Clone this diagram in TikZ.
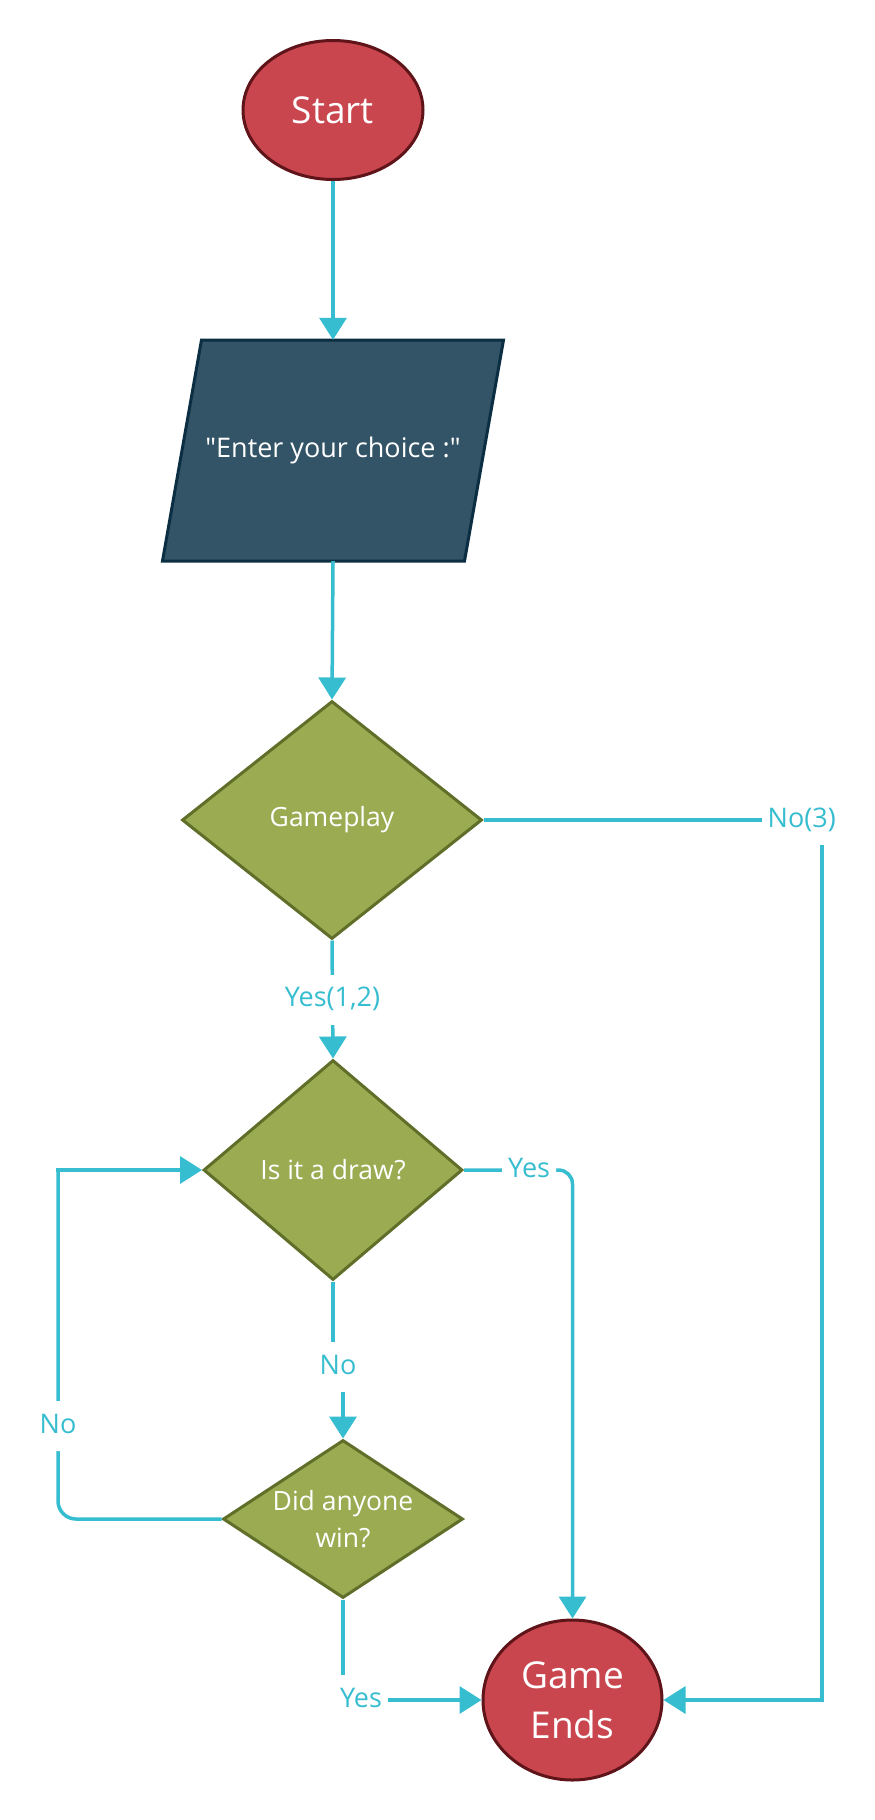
\documentclass[tikz,border=0pt]{standalone}
\usepackage{amsmath, amssymb}
\usepackage{xcolor}
\usepackage{fontspec}
\setmainfont{Open Sans}[Ligatures=TeXOff]
\usepackage{tikz}
\usetikzlibrary{arrows.meta, positioning, shapes.geometric}

\definecolor{termfill}{HTML}{C9464F}
\definecolor{termline}{HTML}{5E1418}
\definecolor{decfill}{HTML}{9AAB52}
\definecolor{decline}{HTML}{5F6E28}
\definecolor{iofill}{HTML}{325466}
\definecolor{ioline}{HTML}{0B2E42}
\definecolor{flowcol}{HTML}{36BDCF}

\begin{document}
\begin{tikzpicture}[x=1pt, y=-1pt,
			terminal/.style={ellipse, draw=termline, fill=termfill, line width=3pt,
				text=white, align=center, inner sep=0pt, font=\fontsize{37}{50}\selectfont},
			decision/.style={diamond, draw=decline, fill=decfill, line width=3pt,
				text=white, align=center, inner sep=0pt, font=\fontsize{26.5}{37}\selectfont},
			inout/.style={text=white, inner sep=0pt, font=\fontsize{27}{37}\selectfont},
			flowline/.style={draw=flowcol, line width=3.5pt},
			flow/.style={flowline, -{Triangle[length=22pt, width=27pt]}},
			lbl/.style={fill=white, text=flowcol, inner xsep=6pt, inner ysep=12pt,
				text height=20pt, text depth=6pt, font=\fontsize{27}{30}\selectfont}]

			\useasboundingbox (0,0) rectangle (875,1820);

%			start and input
			\node[terminal, minimum width=180pt, minimum height=139pt] (Start) at (333,110) {Start};

			\coordinate (IO) at (333,450.5);
			\draw[draw=ioline, fill=iofill, line width=3pt]
				([shift={(-131.5,-110.5)}]IO) -- ([shift={(170.5,-110.5)}]IO)
				-- ([shift={(131.5,110.5)}]IO) -- ([shift={(-170.5,110.5)}]IO) -- cycle;
			\node[inout, minimum height=221pt] (Choice) at (IO) {"Enter your choice :"};

%			decisions
			\node[decision, minimum width=300pt, minimum height=238pt] (Gameplay) at (332,820) {Gameplay};
			\node[decision, minimum width=259pt, minimum height=220pt] (Draw) at (333,1170) {Is it a draw?};
			\node[decision, aspect=1.5, minimum width=240pt, minimum height=158pt] (Win) at (343,1519) {Did anyone\\win?};

%			end
			\node[terminal, minimum width=179pt, minimum height=160pt] (Ends) at (572.5,1700) {Game\\Ends};

			\coordinate (NoTurn) at (822,820);
			\coordinate (NoJog) at (338,1367);
			\coordinate (LoopTop) at (58,1170);

%			connectors
			\draw[flow] (Start.south) -- (Choice.north);
			\draw[flow] (Choice.south) -- (Gameplay.north);
			\draw[flow] (Gameplay.south) -- node[lbl] {Yes(1,2)} (Draw.north);
			\draw[flow] (Gameplay.east) -- node[lbl, pos=0.94] {No(3)} (NoTurn) |- (Ends.east);
			\draw[flow, rounded corners=14pt] (Draw.east) -| node[lbl, pos=0.3] {Yes} (Ends.north);
			\draw[flow] (Draw.south) |- (NoJog) node[lbl] {No} -| (Win.north);
%			loop back, sharp at the top
			\draw[flowline, rounded corners=18pt] (Win.west) -| node[lbl, pos=0.633] {No} (LoopTop);
			\draw[flow, line cap=rect] (LoopTop) -- (Draw.west);
			\draw[flow] (Win.south) |- node[lbl, pos=0.565] {Yes} (Ends.west);
		\end{tikzpicture}
\end{document}
